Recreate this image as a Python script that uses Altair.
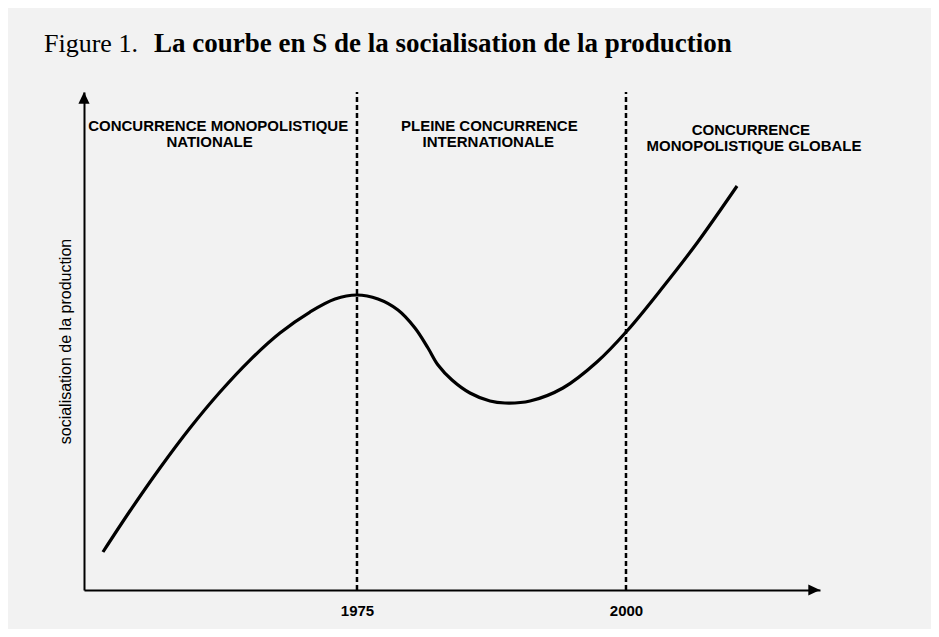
import altair as alt
import pandas as pd

# S-curve (x in years, y in arbitrary units 0-100)
years = [1951.39, 1953.90, 1956.69, 1959.48, 1962.27, 1965.06, 1967.84, 1970.63, 1972.96, 1975.00,
         1976.95, 1978.81, 1980.39, 1981.60, 1982.53, 1983.83, 1985.50, 1987.36, 1988.75,
         1991.08, 1994.14, 1997.30, 2000.09, 2003.44, 2006.60, 2010.32]
values = [7.63, 15.86, 24.50, 32.53, 39.76, 46.18, 51.61, 55.82, 58.43, 59.24,
          58.43, 56.22, 52.61, 48.59, 45.18, 42.17, 39.56, 37.95, 37.55,
          37.95, 40.56, 45.78, 52.01, 60.84, 69.68, 81.12]

boundaries = [1975, 2000]

period_lines = ["CONCURRENCE MONOPOLISTIQUE", "NATIONALE",
                "PLEINE CONCURRENCE", "INTERNATIONALE",
                "CONCURRENCE", "MONOPOLISTIQUE GLOBALE"]
period_x = [1962.1, 1961.3, 1987.3, 1987.2, 2011.6, 2011.9]
period_y = [93.2, 90.0, 93.2, 90.0, 92.4, 89.2]

X_MIN, X_MAX = 1949.63, 2018.03
Y_MIN, Y_MAX = 0, 100

curve = pd.DataFrame({"year": years, "value": values})
bounds = pd.DataFrame({"year": boundaries, "value": [Y_MIN] * 2, "value2": [Y_MAX] * 2})
labels = pd.DataFrame({"year": period_x, "value": period_y, "text": period_lines})
arrow_up = pd.DataFrame({"year": [X_MIN], "value": [Y_MAX]})
arrow_right = pd.DataFrame({"year": [X_MAX], "value": [Y_MIN]})

xscale = alt.Scale(domain=[X_MIN, X_MAX], nice=False, zero=False)
yscale = alt.Scale(domain=[Y_MIN, Y_MAX], nice=False, zero=False)
xaxis = alt.Axis(values=boundaries, format="d", title=None, ticks=False, grid=False,
                 domainColor="black", domainWidth=2, labelColor="black",
                 labelFont="Liberation Sans", labelFontWeight="bold", labelFontSize=15,
                 labelPadding=13)
yaxis = alt.Axis(labels=False, ticks=False, grid=False, domainColor="black", domainWidth=2,
                 title="socialisation de la production", titleFont="Liberation Sans",
                 titleFontSize=16, titleFontWeight=500, titleColor="black",
                 titlePadding=11)

def X(field="year"):
    return alt.X(f"{field}:Q", scale=xscale, axis=xaxis)

def Y(field="value"):
    return alt.Y(f"{field}:Q", scale=yscale, axis=yaxis)

line = alt.Chart(curve).mark_line(color="black", strokeWidth=3.2, interpolate="catmull-rom").encode(
    x=X(), y=Y()
)

rules = alt.Chart(bounds).mark_rule(color="black", strokeWidth=2.5, strokeDash=[5, 3]).encode(
    x=X(), y=Y(), y2="value2:Q"
)

up = alt.Chart(arrow_up).mark_point(
    shape="M0,0L0.43,0.9L-0.43,0.9Z", filled=True, color="black", opacity=1, size=676
).encode(x=X(), y=Y())

right = alt.Chart(arrow_right).mark_point(
    shape="M0,0L-0.9,-0.43L-0.9,0.43Z", filled=True, color="black", opacity=1, size=676
).encode(x=X(), y=Y())

period_text = alt.Chart(labels).mark_text(
    font="Liberation Sans", fontWeight="bold", fontSize=15, color="black",
    align="center", baseline="middle"
).encode(x=X(), y=Y(), text="text:N")

title_df = pd.DataFrame({"t": [0]})
fig_text = alt.Chart(title_df).mark_text(
    text="Figure 1.", font="Liberation Serif", fontSize=26, color="black",
    align="left", baseline="alphabetic"
).encode(x=alt.value(-40), y=alt.value(-40))
fig_title = alt.Chart(title_df).mark_text(
    text="La courbe en S de la socialisation de la production", font="Liberation Serif",
    fontSize=27, fontWeight="bold", color="black", align="left", baseline="alphabetic"
).encode(x=alt.value(70), y=alt.value(-40))

chart = alt.layer(rules, line, up, right, period_text, fig_text, fig_title).properties(
    width=736, height=498,
    padding={"left": 76, "top": 84, "right": 111, "bottom": 39},
    autosize=alt.AutoSizeParams(type="none"),
    background="#f2f2f2",
).configure_view(stroke=None)

chart.save("out.html", embed_options={"renderer": "svg", "actions": False})
